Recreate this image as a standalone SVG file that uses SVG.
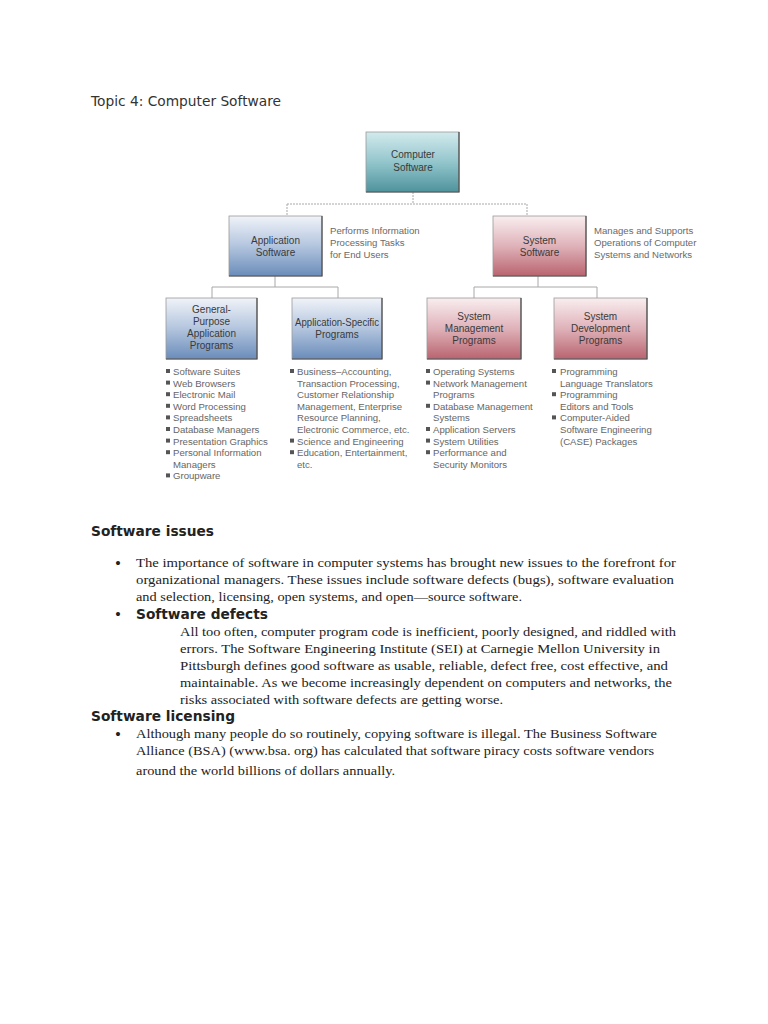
<svg xmlns="http://www.w3.org/2000/svg" width="768" height="1024" viewBox="0 0 768 1024">
<defs>
<linearGradient id="gTeal" x1="0" y1="0" x2="0" y2="1"><stop offset="0" stop-color="#d3eaed"/><stop offset="0.5" stop-color="#93c6cc"/><stop offset="1" stop-color="#4f929c"/></linearGradient>
<linearGradient id="gBlue" x1="0" y1="0" x2="0" y2="1"><stop offset="0" stop-color="#f0f3f9"/><stop offset="0.5" stop-color="#b3c5de"/><stop offset="1" stop-color="#6a8cba"/></linearGradient>
<linearGradient id="gRed" x1="0" y1="0" x2="0" y2="1"><stop offset="0" stop-color="#f9eef0"/><stop offset="0.5" stop-color="#dfb2b9"/><stop offset="1" stop-color="#b9646f"/></linearGradient>
</defs>
<style>
.box{stroke:#9a9a9a;stroke-width:0.8}
.shadow{fill:none;stroke:#4a4a4a;stroke-width:1.2}
.bl{font-family:"Liberation Sans",Arial,sans-serif;font-size:10px;fill:#3a3a3a;text-anchor:middle}
.li{font-family:"Liberation Sans",Arial,sans-serif;font-size:9.6px;fill:#666}
.side{font-family:"Liberation Sans",Arial,sans-serif;font-size:9.6px;fill:#6a6a6a}
.bul{fill:#555}
.conn{fill:none;stroke:#a8a8a8;stroke-width:1}
.title{font-family:"DejaVu Sans",sans-serif;font-size:13.5px;fill:#333}
.head{font-family:"DejaVu Sans",sans-serif;font-size:13.5px;font-weight:bold;fill:#222}
.body{font-family:"Liberation Serif","Times New Roman",serif;font-size:13px;fill:#222}
.dot{font-family:"Liberation Serif","Times New Roman",serif;font-size:17px;fill:#222}
</style>
<rect width="768" height="1024" fill="#ffffff"/>
<text class="title" x="91" y="106" textLength="190" lengthAdjust="spacingAndGlyphs">Topic 4: Computer Software</text>

<g id="connectors">
<path class="conn" stroke-dasharray="2 1" d="M413 192 V204 M287 204 H527 M287 204 V216 M527 204 V216"/>
<path class="conn" d="M275 276 V287 M212 287 H338 M212 287 V298 M338 287 V298"/>
<path class="conn" d="M538 276 V287 M474 287 H597 M474 287 V298 M597 287 V298"/>
</g>

<g id="computer-software">
<rect class="box" x="366" y="132" width="93" height="60" fill="url(#gTeal)"/>
<polyline class="shadow" points="459,132 459,192 366,192"/>
<text class="bl" x="413" y="157.5">Computer</text>
<text class="bl" x="413" y="170.5">Software</text>
</g>

<g id="application-software">
<rect class="box" x="229" y="216" width="93" height="60" fill="url(#gBlue)"/>
<polyline class="shadow" points="322,216 322,276 229,276"/>
<text class="bl" x="275.5" y="243.5">Application</text>
<text class="bl" x="275.5" y="255.5">Software</text>
<text class="side" x="330" y="233.5">Performs Information</text>
<text class="side" x="330" y="245.5">Processing Tasks</text>
<text class="side" x="330" y="257.5">for End Users</text>
</g>

<g id="system-software">
<rect class="box" x="493" y="216" width="93" height="60" fill="url(#gRed)"/>
<polyline class="shadow" points="586,216 586,276 493,276"/>
<text class="bl" x="539.5" y="243.5">System</text>
<text class="bl" x="539.5" y="255.5">Software</text>
<text class="side" x="594" y="233.5">Manages and Supports</text>
<text class="side" x="594" y="245.5">Operations of Computer</text>
<text class="side" x="594" y="257.5">Systems and Networks</text>
</g>

<g id="general-purpose">
<rect class="box" x="166" y="298" width="91" height="61" fill="url(#gBlue)"/>
<polyline class="shadow" points="257,298 257,359 166,359"/>
<text class="bl" x="211.5" y="312.5">General-</text>
<text class="bl" x="211.5" y="324.5">Purpose</text>
<text class="bl" x="211.5" y="336.5">Application</text>
<text class="bl" x="211.5" y="348.5">Programs</text>
<g class="bul"><rect x="166" y="369" width="4" height="4"/><rect x="166" y="380.6" width="4" height="4"/><rect x="166" y="392.2" width="4" height="4"/><rect x="166" y="403.8" width="4" height="4"/><rect x="166" y="415.4" width="4" height="4"/><rect x="166" y="427" width="4" height="4"/><rect x="166" y="438.6" width="4" height="4"/><rect x="166" y="450.2" width="4" height="4"/><rect x="166" y="473.4" width="4" height="4"/></g>
<text class="li" x="173" y="375">Software Suites</text>
<text class="li" x="173" y="386.6">Web Browsers</text>
<text class="li" x="173" y="398.2">Electronic Mail</text>
<text class="li" x="173" y="409.8">Word Processing</text>
<text class="li" x="173" y="421.4">Spreadsheets</text>
<text class="li" x="173" y="433">Database Managers</text>
<text class="li" x="173" y="444.6">Presentation Graphics</text>
<text class="li" x="173" y="456.2">Personal Information</text>
<text class="li" x="173" y="467.8">Managers</text>
<text class="li" x="173" y="479.4">Groupware</text>
</g>

<g id="application-specific">
<rect class="box" x="292" y="298" width="90" height="61" fill="url(#gBlue)"/>
<polyline class="shadow" points="382,298 382,359 292,359"/>
<text class="bl" x="337" y="325.5" textLength="84" lengthAdjust="spacingAndGlyphs">Application-Specific</text>
<text class="bl" x="337" y="337.5">Programs</text>
<g class="bul"><rect x="290" y="369" width="4" height="4"/><rect x="290" y="438.6" width="4" height="4"/><rect x="290" y="450.2" width="4" height="4"/></g>
<text class="li" x="297" y="375">Business–Accounting,</text>
<text class="li" x="297" y="386.6">Transaction Processing,</text>
<text class="li" x="297" y="398.2">Customer Relationship</text>
<text class="li" x="297" y="409.8">Management, Enterprise</text>
<text class="li" x="297" y="421.4">Resource Planning,</text>
<text class="li" x="297" y="433">Electronic Commerce, etc.</text>
<text class="li" x="297" y="444.6">Science and Engineering</text>
<text class="li" x="297" y="456.2">Education, Entertainment,</text>
<text class="li" x="297" y="467.8">etc.</text>
</g>

<g id="system-management">
<rect class="box" x="427" y="298" width="94" height="61" fill="url(#gRed)"/>
<polyline class="shadow" points="521,298 521,359 427,359"/>
<text class="bl" x="474" y="319.5">System</text>
<text class="bl" x="474" y="331.5">Management</text>
<text class="bl" x="474" y="343.5">Programs</text>
<g class="bul"><rect x="426" y="369" width="4" height="4"/><rect x="426" y="380.6" width="4" height="4"/><rect x="426" y="403.8" width="4" height="4"/><rect x="426" y="427" width="4" height="4"/><rect x="426" y="438.6" width="4" height="4"/><rect x="426" y="450.2" width="4" height="4"/></g>
<text class="li" x="433" y="375">Operating Systems</text>
<text class="li" x="433" y="386.6">Network Management</text>
<text class="li" x="433" y="398.2">Programs</text>
<text class="li" x="433" y="409.8">Database Management</text>
<text class="li" x="433" y="421.4">Systems</text>
<text class="li" x="433" y="433">Application Servers</text>
<text class="li" x="433" y="444.6">System Utilities</text>
<text class="li" x="433" y="456.2">Performance and</text>
<text class="li" x="433" y="467.8">Security Monitors</text>
</g>

<g id="system-development">
<rect class="box" x="554" y="298" width="93" height="61" fill="url(#gRed)"/>
<polyline class="shadow" points="647,298 647,359 554,359"/>
<text class="bl" x="600.5" y="319.5">System</text>
<text class="bl" x="600.5" y="331.5">Development</text>
<text class="bl" x="600.5" y="343.5">Programs</text>
<g class="bul"><rect x="552" y="369" width="4" height="4"/><rect x="552" y="392.2" width="4" height="4"/><rect x="552" y="415.4" width="4" height="4"/></g>
<text class="li" x="560" y="375">Programming</text>
<text class="li" x="560" y="386.6">Language Translators</text>
<text class="li" x="560" y="398.2">Programming</text>
<text class="li" x="560" y="409.8">Editors and Tools</text>
<text class="li" x="560" y="421.4">Computer-Aided</text>
<text class="li" x="560" y="433">Software Engineering</text>
<text class="li" x="560" y="444.6">(CASE) Packages</text>
</g>

<text class="head" x="91" y="536" textLength="123" lengthAdjust="spacingAndGlyphs">Software issues</text>
<text class="dot" x="115" y="569">•</text>
<text class="body" x="136" y="567" textLength="540" lengthAdjust="spacingAndGlyphs">The importance of software in computer systems has brought new issues to the forefront for</text>
<text class="body" x="136" y="584" textLength="538" lengthAdjust="spacingAndGlyphs">organizational managers. These issues include software defects (bugs), software evaluation</text>
<text class="body" x="136" y="601" textLength="386" lengthAdjust="spacingAndGlyphs">and selection, licensing, open systems, and open—source software.</text>
<text class="dot" x="115" y="620">•</text>
<text class="head" x="136" y="619" textLength="132" lengthAdjust="spacingAndGlyphs">Software defects</text>
<text class="body" x="180" y="636" textLength="496" lengthAdjust="spacingAndGlyphs">All too often, computer program code is inefficient, poorly designed, and riddled with</text>
<text class="body" x="180" y="653" textLength="480" lengthAdjust="spacingAndGlyphs">errors. The Software Engineering Institute (SEI) at Carnegie Mellon University in</text>
<text class="body" x="180" y="670" textLength="488" lengthAdjust="spacingAndGlyphs">Pittsburgh defines good software as usable, reliable, defect free, cost effective, and</text>
<text class="body" x="180" y="687" textLength="492" lengthAdjust="spacingAndGlyphs">maintainable. As we become increasingly dependent on computers and networks, the</text>
<text class="body" x="180" y="704" textLength="323" lengthAdjust="spacingAndGlyphs">risks associated with software defects are getting worse.</text>
<text class="head" x="91" y="721" textLength="144" lengthAdjust="spacingAndGlyphs">Software licensing</text>
<text class="dot" x="115" y="740">•</text>
<text class="body" x="136" y="738" textLength="521" lengthAdjust="spacingAndGlyphs">Although many people do so routinely, copying software is illegal. The Business Software</text>
<text class="body" x="136" y="755" textLength="518" lengthAdjust="spacingAndGlyphs">Alliance (BSA) (www.bsa. org) has calculated that software piracy costs software vendors</text>
<text class="body" x="136" y="775" textLength="259" lengthAdjust="spacingAndGlyphs">around the world billions of dollars annually.</text>
</svg>
